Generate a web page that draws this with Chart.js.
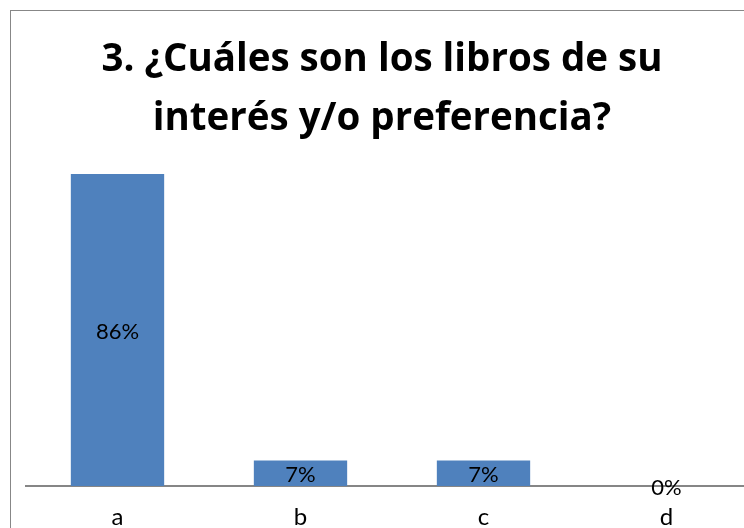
<!DOCTYPE html>
<html lang="es">
<head>
<meta charset="utf-8">
<title>Libros de interés</title>
<script src="https://cdn.jsdelivr.net/npm/chart.js@4/dist/chart.umd.min.js"></script>
<style>
  html, body { margin: 0; padding: 0; background: #fff; overflow: hidden; }
  body { width: 744px; height: 528px; position: relative; }
  /* marco del gráfico (se corta por la derecha y por abajo como en la captura) */
  .marco { position: absolute; left: 10px; top: 10px; width: 780px; height: 580px; border: 1px solid #878787; }
  #grafico { position: absolute; left: 0; top: 0; }
</style>
</head>
<body>
<div class="marco"></div>
<canvas id="grafico" width="770" height="560"></canvas>
<script>
// datos
const categorias = ['a', 'b', 'c', 'd'];
const porcentajes = [86, 7, 7, 0];
const titulo = ['3. ¿Cuáles son los libros de su', 'interés y/o preferencia?'];

// etiquetas de valor dentro de cada barra
const etiquetasBarras = {
  id: 'etiquetasBarras',
  afterDatasetsDraw(chart) {
    const ctx = chart.ctx;
    const meta = chart.getDatasetMeta(0);
    ctx.save();
    ctx.font = '22px Lato';
    ctx.fillStyle = '#000';
    ctx.textAlign = 'center';
    ctx.textBaseline = 'middle';
    meta.data.forEach((barra, i) => {
      const y = (barra.y + barra.base) / 2;
      ctx.fillText(porcentajes[i] + '%', barra.x, y + 2);
    });
    ctx.restore();
  }
};

new Chart(document.getElementById('grafico').getContext('2d'), {
  type: 'bar',
  data: {
    labels: categorias,
    datasets: [{
      data: porcentajes,
      backgroundColor: '#4F81BD',
      borderWidth: 0,
      barPercentage: 0.51,
      categoryPercentage: 1
    }]
  },
  options: {
    responsive: false,
    animation: false,
    layout: { padding: { left: 6, right: 12, top: 0, bottom: 29 } },
    plugins: {
      legend: { display: false },
      tooltip: { enabled: false },
      title: {
        display: true,
        text: titulo,
        color: '#000',
        font: { family: 'Open Sans', size: 38.5, weight: 'bold', lineHeight: 1.54 },
        padding: { top: 30, bottom: 11 }
      }
    },
    scales: {
      x: {
        grid: { display: false, drawTicks: false },
        border: { color: '#868686', width: 2 },
        ticks: { color: '#000', font: { family: 'Lato', size: 24 }, padding: 17 },
        afterFit(escala) { escala.height = 45; }
      },
      y: {
        min: 0,
        max: 90,
        ticks: { display: false },
        grid: { display: false },
        border: { display: false },
        afterFit(escala) { escala.width = 20; }
      }
    }
  },
  plugins: [etiquetasBarras]
});
</script>
</body>
</html>
